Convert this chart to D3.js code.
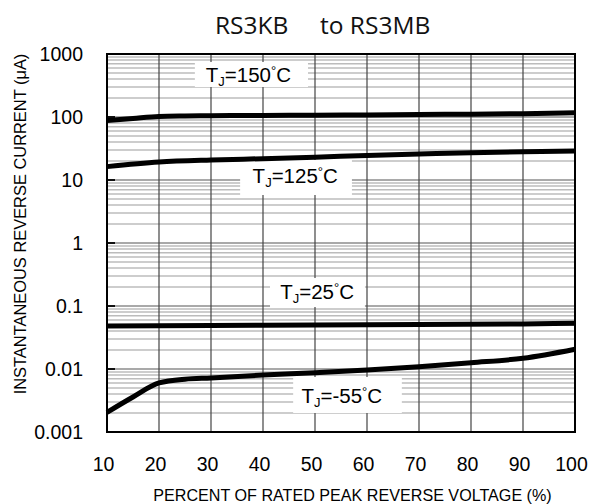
<!DOCTYPE html>
<html><head><meta charset="utf-8">
<script src="https://cdn.jsdelivr.net/npm/d3@7"></script>
<style>body{margin:0;background:#fff}</style>
</head><body>
<script>
const xTicks=[10,20,30,40,50,60,70,80,90,100];
const yTicks=[0.001,0.01,0.1,1,10,100,1000];
const yTickLabels=["0.001","0.01","0.1","1","10","100","1000"];
const v150x=[10,15,20,25,30,40,50,60,70,80,90,100];
const v150y=[88,95,102,104,105,106,107,108,110,111,113,117];
const v125x=[10,20,30,40,50,60,70,80,90,100];
const v125y=[16.3,19.3,20.8,21.8,23,24.5,25.8,27.1,28,28.8];
const v25x=[10,30,50,70,90,100];
const v25y=[0.048,0.049,0.050,0.051,0.052,0.053];
const v55x=[10,15,20,25,30,40,50,60,70,80,90,100];
const v55y=[0.00205,0.0036,0.0060,0.0069,0.0072,0.0080,0.0087,0.0096,0.0109,0.0126,0.0148,0.0206];
// label: temperature text, anchor (x %, y µA), box extents in data units
const labelTemps=["150","125","25","-55"];
const labelX=[29.0,38.0,43.3,47.4];
const labelY=[359,8.87,0.129,0.00288];
const boxX0=[26.9,35.6,41.35,45.8];
const boxX1=[48.65,57.1,59.6,66.7];
const boxY0=[746,20.8,0.278,0.00747];
const boxY1=[299,5.78,0.0964,0.0020];

const W=590,H=504,L=107,R=575,T=54,B=432;
const svg=d3.select("body").append("svg").attr("width",W).attr("height",H);
const x=d3.scaleLinear().domain([10,100]).range([L,R]);
const y=d3.scaleLog().domain([0.001,1000]).range([B,T]);

// minor grid
const minors=[];
for(let e=-3;e<3;e++){for(let m=2;m<=9;m++)minors.push(m*Math.pow(10,e));}
svg.append("g").selectAll("line").data(minors).join("line")
 .attr("x1",L).attr("x2",R).attr("y1",d=>y(d)).attr("y2",d=>y(d))
 .attr("stroke","#bcbcbc").attr("stroke-width",1.5);
// decade grid
svg.append("g").selectAll("line").data(yTicks).join("line")
 .attr("x1",L).attr("x2",R).attr("y1",d=>y(d)).attr("y2",d=>y(d))
 .attr("stroke","#555").attr("stroke-width",1.2);
svg.append("g").selectAll("line").data(yTicks).join("line")
 .attr("x1",L).attr("x2",L+8).attr("y1",d=>y(d)).attr("y2",d=>y(d))
 .attr("stroke","#111").attr("stroke-width",2);
// vertical grid
svg.append("g").selectAll("line").data(xTicks).join("line")
 .attr("x1",d=>x(d)).attr("x2",d=>x(d)).attr("y1",T).attr("y2",B)
 .attr("stroke","#444").attr("stroke-width",1.2);

// label boxes + text
const ff="'Liberation Sans', Arial, sans-serif";
labelTemps.forEach((t,i)=>{
  const g=svg.append("g");
  g.append("rect").attr("x",x(boxX0[i])).attr("y",y(boxY0[i]))
   .attr("width",x(boxX1[i])-x(boxX0[i])).attr("height",y(boxY1[i])-y(boxY0[i])).attr("fill","#fff");
  const txt=g.append("text").attr("x",x(labelX[i])).attr("y",y(labelY[i])).attr("font-family",ff).attr("font-size",20.5).attr("fill","#000");
  txt.append("tspan").text("T");
  txt.append("tspan").attr("font-size",13).attr("dy",4).text("J");
  txt.append("tspan").attr("dy",-4).text("="+t);
  txt.append("tspan").attr("font-size",13).attr("dy",-7).text("°");
  txt.append("tspan").attr("dy",7).text("C");
});

// curves
const line=d3.line().x(d=>x(d[0])).y(d=>y(d[1])).curve(d3.curveMonotoneX);
[[v150x,v150y],[v125x,v125y],[v25x,v25y],[v55x,v55y]].forEach(([xs,ys])=>{
  svg.append("path").attr("d",line(xs.map((d,i)=>[d,ys[i]])))
   .attr("fill","none").attr("stroke","#000").attr("stroke-width",5);
});

// frame
svg.append("rect").attr("x",L).attr("y",T).attr("width",R-L).attr("height",B-T)
 .attr("fill","none").attr("stroke","#000").attr("stroke-width",2);

// tick labels
svg.append("g").selectAll("text").data(yTicks).join("text")
 .attr("x",83).attr("y",d=>y(d)+7).attr("text-anchor","end")
 .attr("font-family",ff).attr("font-size",19.5).text((d,i)=>yTickLabels[i]);
svg.append("g").selectAll("text").data(xTicks).join("text")
 .attr("x",d=>x(d)-3.5).attr("y",471).attr("text-anchor","middle")
 .attr("font-family",ff).attr("font-size",19.5).text(d=>d);

// axis titles
const xt=svg.append("text").attr("x",352.5).attr("y",501).attr("text-anchor","middle")
 .attr("font-family",ff).attr("font-size",16).text("PERCENT OF RATED PEAK REVERSE VOLTAGE (%)");
xt.attr("font-size",16*399/xt.node().getComputedTextLength());
const yt=svg.append("text").attr("transform","translate(25.5,224) rotate(-90)").attr("text-anchor","middle")
 .attr("font-family",ff).attr("font-size",16).text("INSTANTANEOUS REVERSE CURRENT (μA)");
yt.attr("font-size",16*341/yt.node().getComputedTextLength());
// title
const title=svg.append("text").attr("y",34)
 .attr("font-family","'Open Sans', sans-serif").attr("font-size",24.5).attr("fill","#111");
title.append("tspan").attr("x",215).text("RS3KB");
title.append("tspan").attr("x",320).text(" to RS3MB".trim());
</script>
</body></html>
